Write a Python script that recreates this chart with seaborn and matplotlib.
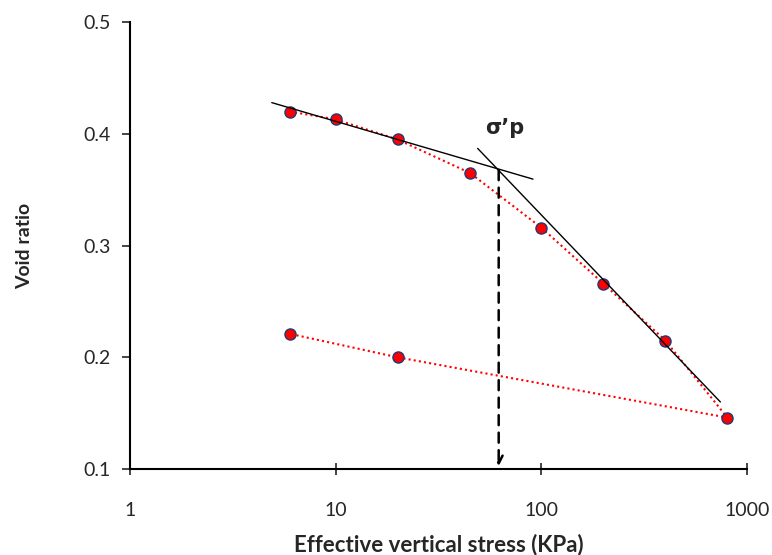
import matplotlib
matplotlib.use("Agg")
import matplotlib.pyplot as plt
import seaborn as sns
import pandas as pd

# Data
stress = [6, 10, 20, 45, 100, 200, 400, 800, 20, 6]
void_ratio = [0.420, 0.413, 0.395, 0.365, 0.316, 0.266, 0.215, 0.146, 0.200, 0.221]

# Construction lines (Casagrande)
recomp_x = [4.9, 91]
recomp_y = [0.428, 0.3595]
virgin_x = [49, 740]
virgin_y = [0.387, 0.160]
sigma_p_x = 62
sigma_p_y = 0.370

x_ticks = [1, 10, 100, 1000]
y_ticks = [0.1, 0.2, 0.3, 0.4, 0.5]

sns.set_theme(style="white")
plt.rcParams['font.family'] = ['Lato', 'DejaVu Sans']

df = pd.DataFrame({"stress": stress, "void": void_ratio})

fig = plt.figure(figsize=(7.72, 5.55), dpi=100)
ax = fig.add_axes([0.168, 0.155, 0.800, 0.805])

sns.lineplot(data=df, x="stress", y="void", sort=False, ax=ax, color="red",
             linestyle=(0, (1, 1.5)), linewidth=1.5, estimator=None,
             marker="o", markersize=8, markerfacecolor="red",
             markeredgecolor="#1f3a7a", markeredgewidth=1.0)

ax.plot(recomp_x, recomp_y, color="black", linewidth=1.0)
ax.plot(virgin_x, virgin_y, color="black", linewidth=1.0)

ax.annotate("", xy=(sigma_p_x, 0.1), xytext=(sigma_p_x, sigma_p_y),
            arrowprops=dict(arrowstyle="->", color="black", lw=1.8,
                            linestyle=(0, (4, 3)), mutation_scale=14))
ax.text(66, 0.405, "σ’p", fontsize=15, fontweight="bold", ha="center", va="center",
        family=['DejaVu Sans'])

ax.set_xscale("log")
ax.set_xlim(1, 1000)
ax.set_ylim(0.1, 0.5)
ax.set_xticks(x_ticks)
ax.set_xticklabels([str(t) for t in x_ticks])
ax.set_yticks(y_ticks)
ax.set_yticklabels([f"{t:.1f}" for t in y_ticks])
ax.minorticks_off()

for s in ["top", "right"]:
    ax.spines[s].set_visible(False)
for s in ["left", "bottom"]:
    ax.spines[s].set_color("black")
    ax.spines[s].set_linewidth(1.5)

ax.tick_params(axis="y", direction="out", length=6, width=1.2, labelsize=14, pad=8, left=True)
ax.tick_params(axis="x", direction="inout", length=8, width=1.2, labelsize=14, pad=20, bottom=True)

ax.set_xlabel("Effective vertical stress (KPa)", fontsize=16, fontweight="bold", labelpad=10)
ax.set_ylabel("Void ratio", fontsize=14, fontweight="bold", labelpad=36)

fig.savefig("out.png", dpi=100)
